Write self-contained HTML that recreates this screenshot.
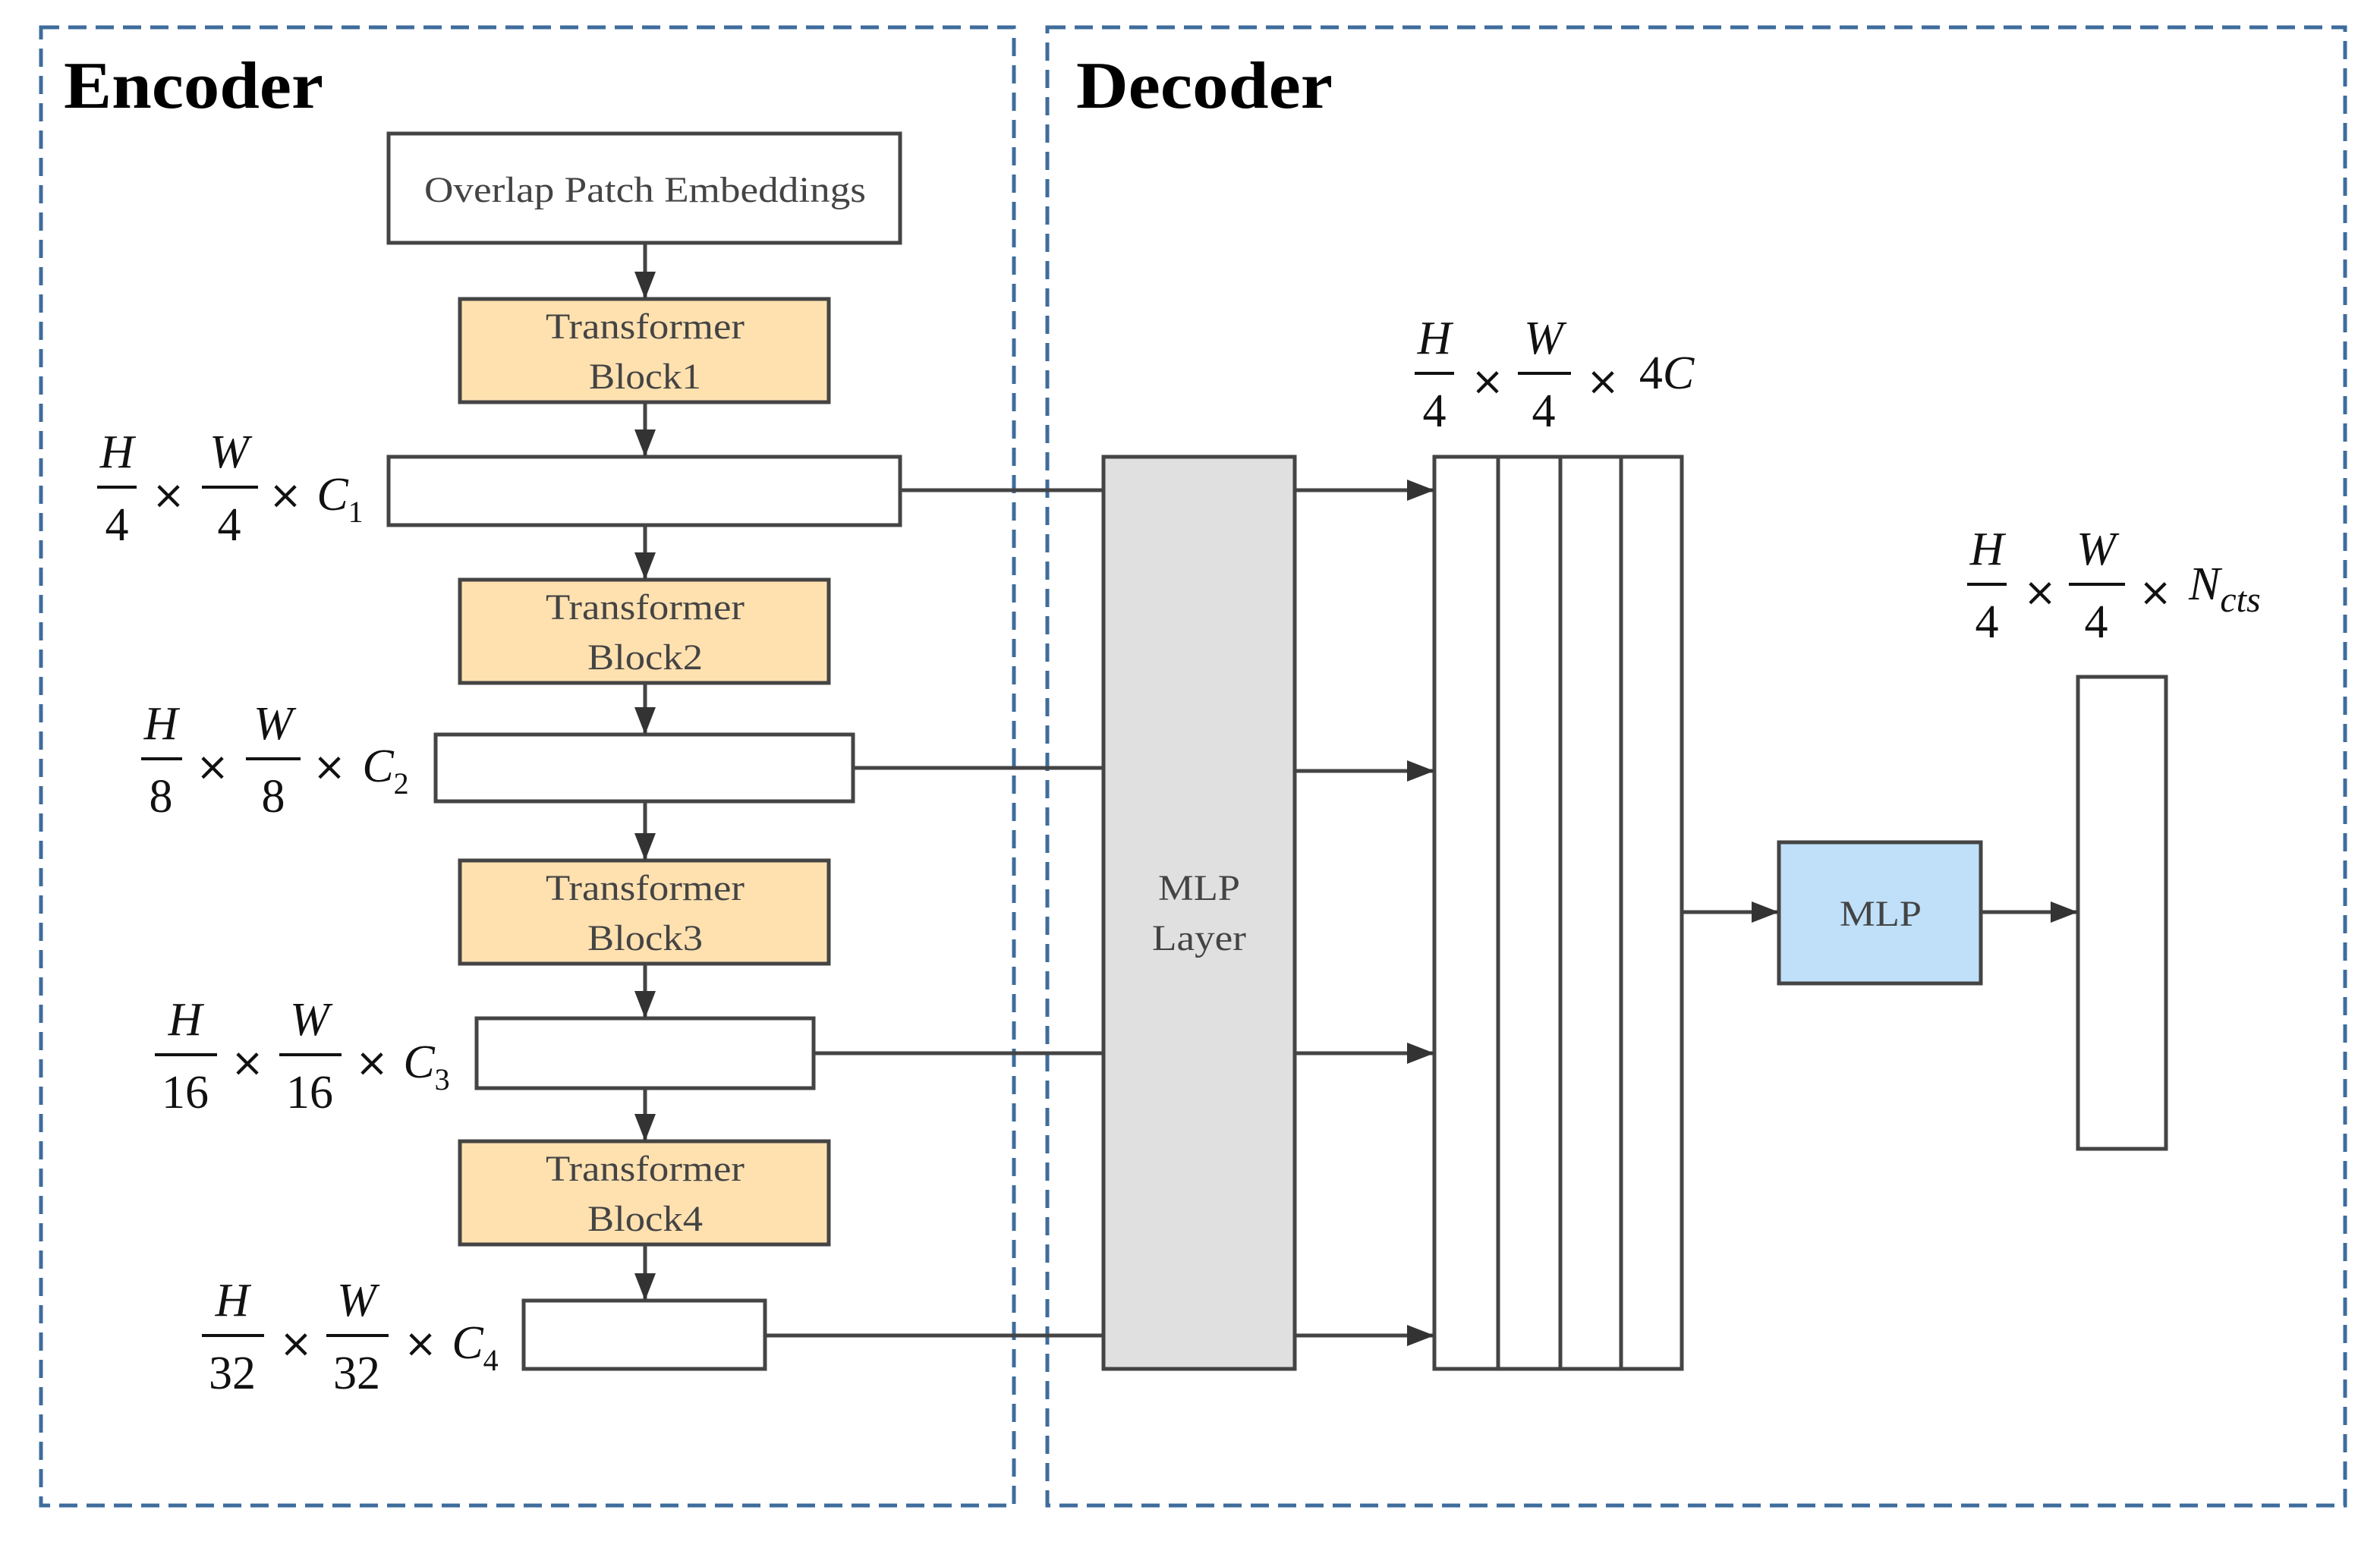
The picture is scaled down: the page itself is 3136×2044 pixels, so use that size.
<!DOCTYPE html>
<html><head><meta charset="utf-8"><style>
html,body{margin:0;padding:0;background:#fff;}
svg{display:block;}
.t{font-family:"Liberation Serif",serif;fill:#444;font-size:24px;text-anchor:middle;}
.m{font-family:"Liberation Serif",serif;font-style:italic;fill:#111;font-size:31px;text-anchor:middle;}
.n{font-family:"Liberation Serif",serif;fill:#111;font-size:31px;text-anchor:middle;}
.x{font-family:"DejaVu Sans",sans-serif;fill:#111;font-size:26px;text-anchor:middle;}
.h{font-family:"Liberation Serif",serif;font-weight:bold;fill:#000;font-size:44px;}
.b{stroke:#444;stroke-width:2.5;}
</style></head><body>
<svg width="3136" height="2044" viewBox="0 0 1568 1022" xmlns="http://www.w3.org/2000/svg">
<defs>
<marker id="ah" viewBox="0 0 10 10" refX="10" refY="5" markerWidth="18" markerHeight="14" markerUnits="userSpaceOnUse" orient="auto" preserveAspectRatio="none"><path d="M0,0 L10,5 L0,10 z" fill="#333"/></marker></defs>
<rect width="1568" height="1022" fill="#fff"/>
<g fill="none" stroke="#3e6c9c" stroke-width="2.5" stroke-dasharray="12,6">
<rect x="27" y="18" width="641" height="974"/>
<rect x="690" y="18" width="855" height="974"/>
</g>
<text class="h" x="42" y="71" textLength="171" lengthAdjust="spacingAndGlyphs">Encoder</text>
<text class="h" x="709" y="71" textLength="169" lengthAdjust="spacingAndGlyphs">Decoder</text>
<g class="b">
<rect x="256" y="88" width="337" height="72" fill="#fff"/>
<rect x="303" y="197" width="243" height="68" fill="#ffe1b0"/>
<rect x="303" y="382" width="243" height="68" fill="#ffe1b0"/>
<rect x="303" y="567" width="243" height="68" fill="#ffe1b0"/>
<rect x="303" y="752" width="243" height="68" fill="#ffe1b0"/>
<rect x="256" y="301" width="337" height="45" fill="#fff"/>
<rect x="287" y="484" width="275" height="44" fill="#fff"/>
<rect x="314" y="671" width="222" height="46" fill="#fff"/>
<rect x="345" y="857" width="159" height="45" fill="#fff"/>
<rect x="727" y="301" width="126" height="601" fill="#e0e0e0"/>
<rect x="945" y="301" width="163" height="601" fill="#fff"/>
<line x1="987" y1="301" x2="987" y2="902"/><line x1="1028" y1="301" x2="1028" y2="902"/><line x1="1068" y1="301" x2="1068" y2="902"/>
<rect x="1172" y="555" width="133" height="93" fill="#bfe0f8"/>
<rect x="1369" y="446" width="58" height="311" fill="#fff"/>
</g>
<g stroke="#444" stroke-width="2.5" marker-end="url(#ah)">
<line x1="425" y1="160" x2="425" y2="197"/>
<line x1="425" y1="265" x2="425" y2="301"/>
<line x1="425" y1="346" x2="425" y2="382"/>
<line x1="425" y1="450" x2="425" y2="484"/>
<line x1="425" y1="528" x2="425" y2="567"/>
<line x1="425" y1="635" x2="425" y2="671"/>
<line x1="425" y1="717" x2="425" y2="752"/>
<line x1="425" y1="820" x2="425" y2="857"/>
</g>
<g stroke="#444" stroke-width="2.5">
<line x1="593" y1="323" x2="727" y2="323"/>
<line x1="562" y1="506" x2="727" y2="506"/>
<line x1="536" y1="694" x2="727" y2="694"/>
<line x1="504" y1="880" x2="727" y2="880"/>
</g>
<g stroke="#444" stroke-width="2.5" marker-end="url(#ah)">
<line x1="853" y1="323" x2="945" y2="323"/>
<line x1="853" y1="508" x2="945" y2="508"/>
<line x1="853" y1="694" x2="945" y2="694"/>
<line x1="853" y1="880" x2="945" y2="880"/>
<line x1="1108" y1="601" x2="1172" y2="601"/>
<line x1="1305" y1="601" x2="1369" y2="601"/>
</g>
<text class="t" x="425" y="133" textLength="291" lengthAdjust="spacingAndGlyphs">Overlap Patch Embeddings</text>
<text class="t" x="425" y="223" textLength="131" lengthAdjust="spacingAndGlyphs">Transformer</text><text class="t" x="425" y="256" textLength="74" lengthAdjust="spacingAndGlyphs">Block1</text>
<text class="t" x="425" y="408" textLength="131" lengthAdjust="spacingAndGlyphs">Transformer</text><text class="t" x="425" y="441" textLength="76" lengthAdjust="spacingAndGlyphs">Block2</text>
<text class="t" x="425" y="593" textLength="131" lengthAdjust="spacingAndGlyphs">Transformer</text><text class="t" x="425" y="626" textLength="76" lengthAdjust="spacingAndGlyphs">Block3</text>
<text class="t" x="425" y="778" textLength="131" lengthAdjust="spacingAndGlyphs">Transformer</text><text class="t" x="425" y="811" textLength="76" lengthAdjust="spacingAndGlyphs">Block4</text>
<text class="t" x="790" y="593" textLength="54" lengthAdjust="spacingAndGlyphs">MLP</text><text class="t" x="790" y="626" textLength="62" lengthAdjust="spacingAndGlyphs">Layer</text>
<text class="t" x="1239" y="610" textLength="54" lengthAdjust="spacingAndGlyphs">MLP</text>
<g stroke="#111" stroke-width="2">
<line x1="64" y1="321" x2="90" y2="321"/><line x1="133" y1="321" x2="170" y2="321"/>
<line x1="93" y1="500" x2="120" y2="500"/><line x1="162" y1="500" x2="198" y2="500"/>
<line x1="102" y1="695" x2="143" y2="695"/><line x1="184" y1="695" x2="225" y2="695"/>
<line x1="133" y1="880" x2="174" y2="880"/><line x1="215" y1="880" x2="256" y2="880"/>
<line x1="932" y1="246" x2="958" y2="246"/><line x1="1000" y1="246" x2="1035" y2="246"/>
<line x1="1296" y1="385" x2="1322" y2="385"/><line x1="1363" y1="385" x2="1400" y2="385"/>
</g>
<text class="m" x="77" y="308">H</text><text class="n" x="77" y="356">4</text>
<text class="x" x="111" y="335">×</text>
<text class="m" x="151" y="308">W</text><text class="n" x="151" y="356">4</text>
<text class="x" x="188" y="335">×</text>
<text class="m" x="224" y="336">C<tspan font-size="20" font-style="normal" dy="8">1</tspan></text>
<text class="m" x="106" y="487">H</text><text class="n" x="106" y="535">8</text>
<text class="x" x="140" y="514">×</text>
<text class="m" x="180" y="487">W</text><text class="n" x="180" y="535">8</text>
<text class="x" x="217" y="514">×</text>
<text class="m" x="254" y="515">C<tspan font-size="20" font-style="normal" dy="8">2</tspan></text>
<text class="m" x="122" y="682">H</text><text class="n" x="122" y="730">16</text>
<text class="x" x="163" y="709">×</text>
<text class="m" x="204" y="682">W</text><text class="n" x="204" y="730">16</text>
<text class="x" x="245" y="709">×</text>
<text class="m" x="281" y="710">C<tspan font-size="20" font-style="normal" dy="8">3</tspan></text>
<text class="m" x="153" y="867">H</text><text class="n" x="153" y="915">32</text>
<text class="x" x="195" y="894">×</text>
<text class="m" x="235" y="867">W</text><text class="n" x="235" y="915">32</text>
<text class="x" x="277" y="894">×</text>
<text class="m" x="313" y="895">C<tspan font-size="20" font-style="normal" dy="8">4</tspan></text>
<text class="m" x="945" y="233">H</text><text class="n" x="945" y="281">4</text>
<text class="x" x="980" y="260">×</text>
<text class="m" x="1017" y="233">W</text><text class="n" x="1017" y="281">4</text>
<text class="x" x="1056" y="260">×</text>
<text class="m" x="1098" y="256" style="font-style:normal">4<tspan font-style="italic">C</tspan></text>
<text class="m" x="1309" y="372">H</text><text class="n" x="1309" y="420">4</text>
<text class="x" x="1344" y="399">×</text>
<text class="m" x="1381" y="372">W</text><text class="n" x="1381" y="420">4</text>
<text class="x" x="1420" y="399">×</text>
<text class="m" x="1442" y="395" style="text-anchor:start">N<tspan font-size="24" dy="8">cts</tspan></text>
</svg>
</body></html>
